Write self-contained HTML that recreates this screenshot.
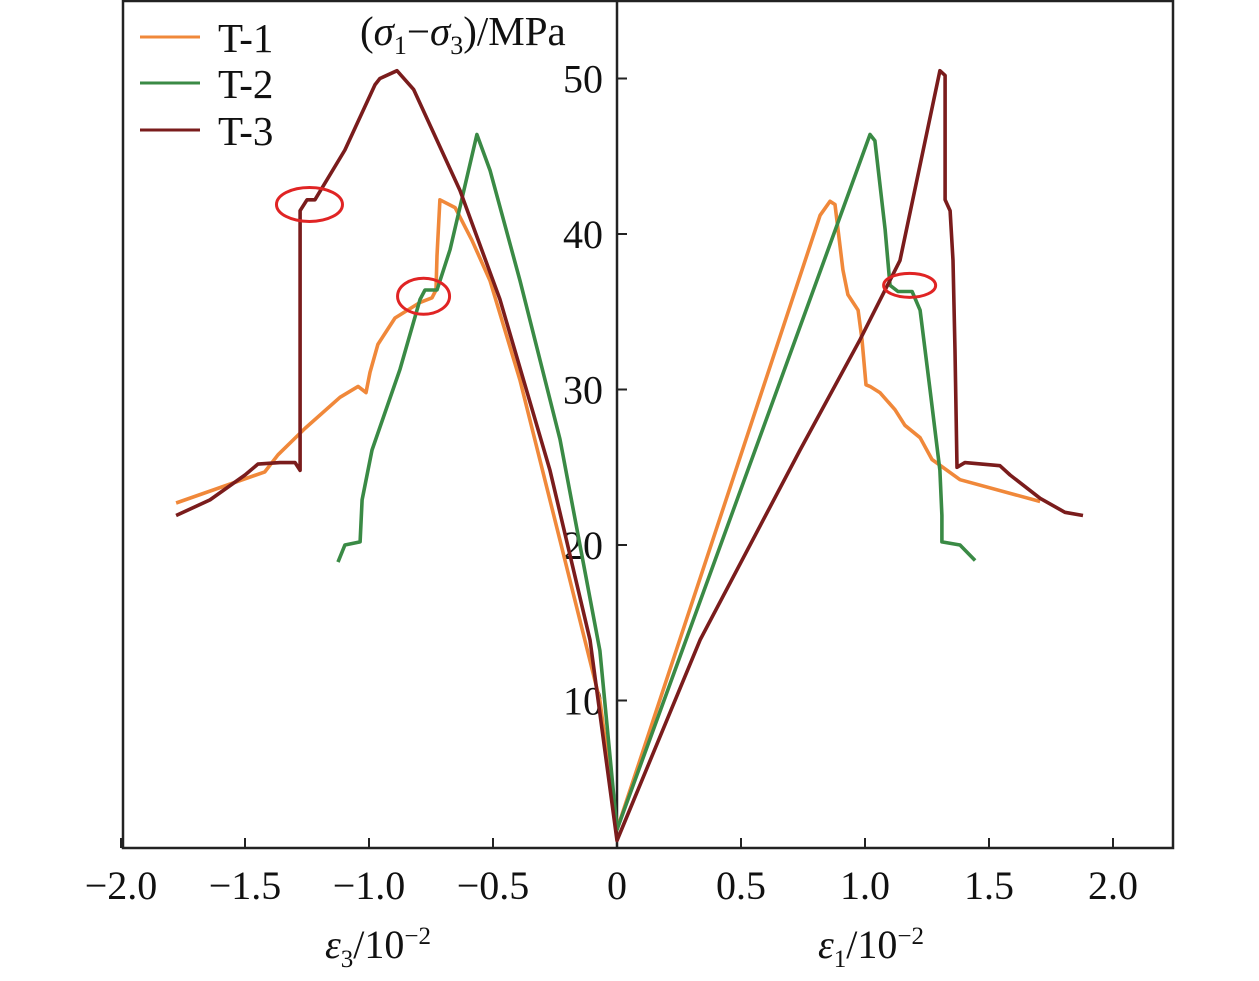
<!DOCTYPE html>
<html><head><meta charset="utf-8"><style>
body{margin:0;background:#fff}
svg{display:block}
text{font-family:"Liberation Serif",serif;fill:#111}
</style></head><body>
<svg id="chart" width="1259" height="981" viewBox="0 0 1259 981" xmlns="http://www.w3.org/2000/svg">
<rect x="123" y="1" width="1050" height="847" fill="none" stroke="#222" stroke-width="2.5"/>
<g id="axes"></g>
<g id="series"></g>
<g id="marks"></g>
<g>
<line x1="140" y1="37" x2="200" y2="37" stroke="#f0883a" stroke-width="3"/>
<text x="218" y="52" font-size="41">T-1</text>
<line x1="140" y1="83" x2="200" y2="83" stroke="#3a8a45" stroke-width="3"/>
<text x="218" y="98" font-size="41">T-2</text>
<line x1="140" y1="130" x2="200" y2="130" stroke="#7a1c1c" stroke-width="3"/>
<text x="218" y="145" font-size="41">T-3</text>
</g>
<text x="360" y="45" font-size="41">(<tspan font-style="italic">σ</tspan><tspan font-size="26" dy="9">1</tspan><tspan dy="-9">−</tspan><tspan font-style="italic">σ</tspan><tspan font-size="26" dy="9">3</tspan><tspan dy="-9">)/MPa</tspan></text>
<text x="325" y="958" font-size="40"><tspan font-style="italic">ε</tspan><tspan font-size="25" dy="9">3</tspan><tspan dy="-9">/10</tspan><tspan font-size="25" dy="-14">−2</tspan></text>
<text x="818" y="958" font-size="40"><tspan font-style="italic">ε</tspan><tspan font-size="25" dy="9">1</tspan><tspan dy="-9">/10</tspan><tspan font-size="25" dy="-14">−2</tspan></text>
</svg>
<script>
const xTicks=[-2.0,-1.5,-1.0,-0.5,0,0.5,1.0,1.5,2.0];
const xTickLabels=["−2.0","−1.5","−1.0","−0.5","0","0.5","1.0","1.5","2.0"];
const yTicks=[10,20,30,40,50];
const yTickLabels=["10","20","30","40","50"];
const t1x=[-1.778,-1.42,-1.367,-1.258,-1.117,-1.044,-1.012,-0.996,-0.964,-0.895,-0.794,-0.746,-0.73,-0.726,-0.714,-0.653,-0.585,-0.512,-0.391,-0.23,-0.069,0,0.819,0.859,0.879,0.911,0.931,0.972,0.988,1.004,1.02,1.06,1.121,1.161,1.222,1.27,1.383,1.706];
const t1y=[22.7,24.7,25.8,27.5,29.5,30.2,29.8,31.1,32.9,34.6,35.6,35.9,36.4,38.6,42.2,41.7,39.6,37.0,30.6,20.3,10.0,1.7,41.2,42.1,41.9,37.7,36.1,35.1,33.2,30.3,30.2,29.8,28.7,27.7,26.9,25.5,24.2,22.8];
const t2x=[-1.125,-1.097,-1.036,-1.028,-0.988,-0.875,-0.794,-0.774,-0.726,-0.673,-0.565,-0.512,-0.391,-0.23,-0.069,0,1.02,1.04,1.081,1.101,1.133,1.19,1.222,1.262,1.302,1.31,1.31,1.383,1.444];
const t2y=[18.9,20.0,20.2,22.9,26.1,31.3,35.8,36.4,36.4,39.0,46.4,44.1,37.0,26.8,13.2,1.7,46.4,46.0,40.3,36.7,36.3,36.3,35.1,30.0,24.8,21.9,20.2,20.0,19.0];
const t3x=[-1.778,-1.641,-1.5,-1.448,-1.359,-1.298,-1.278,-1.278,-1.25,-1.218,-1.097,-0.976,-0.956,-0.887,-0.82,-0.754,-0.633,-0.472,-0.27,-0.109,0,0.335,0.738,0.98,1.141,1.302,1.323,1.323,1.343,1.355,1.363,1.371,1.403,1.544,1.585,1.706,1.806,1.879];
const t3y=[21.9,22.9,24.5,25.2,25.3,25.3,24.8,41.5,42.2,42.2,45.4,49.6,50.0,50.5,49.3,47.0,42.8,35.8,24.8,13.9,1.0,13.9,26.1,33.2,38.3,50.5,50.2,42.2,41.5,38.3,32.5,25.0,25.3,25.1,24.5,23.0,22.1,21.9];
const markX=[-1.24,-0.78,1.18];
const markY=[41.9,36.0,36.7];
const X=v=>617+248*v, Y=v=>856-15.55*v;
const NS="http://www.w3.org/2000/svg";
const axes=document.getElementById('axes'), ser=document.getElementById('series'), mk=document.getElementById('marks');
function mkEl(t,a,p){const e=document.createElementNS(NS,t);for(const k in a)e.setAttribute(k,a[k]);p.appendChild(e);return e;}
const ax=mkEl('line',{x1:617,y1:1,x2:617,y2:848,stroke:'#222','stroke-width':2.5},axes);


xTicks.forEach((v,i)=>{
 const t=mkEl('line',{x1:X(v),y1:848,x2:X(v),y2:838,stroke:'#222','stroke-width':2},axes);
 
 
 const l=mkEl('text',{x:X(v),y:899,'font-size':40,'text-anchor':'middle'},axes);
 l.textContent=xTickLabels[i];
 
 
});
yTicks.forEach((v,i)=>{
 const t=mkEl('line',{x1:617,y1:Y(v),x2:627,y2:Y(v),stroke:'#222','stroke-width':2},axes);
 
 
 const l=mkEl('text',{x:603,y:Y(v)+14,'font-size':40,'text-anchor':'end'},axes);
 l.textContent=yTickLabels[i];
 
 
});
function line(xs,ys,c,name){
 const d=xs.map((x,i)=>(i?'L':'M')+X(x).toFixed(1)+','+Y(ys[i]).toFixed(1)).join('');
 const p=mkEl('path',{d:d,fill:'none',stroke:c,'stroke-width':3.6,'stroke-linejoin':'round'},ser);
 
 
}
line(t1x,t1y,'#f0883a','series-t1');
line(t2x,t2y,'#3a8a45','series-t2');
line(t3x,t3y,'#7a1c1c','series-t3');
const rx=[33,26,26], ry=[17,18,12];
markX.forEach((v,i)=>{
 const e=mkEl('ellipse',{cx:X(v),cy:Y(markY[i]),rx:rx[i],ry:ry[i],fill:'none',stroke:'#e02424','stroke-width':3},mk);
 
 
});
</script>
</body></html>
